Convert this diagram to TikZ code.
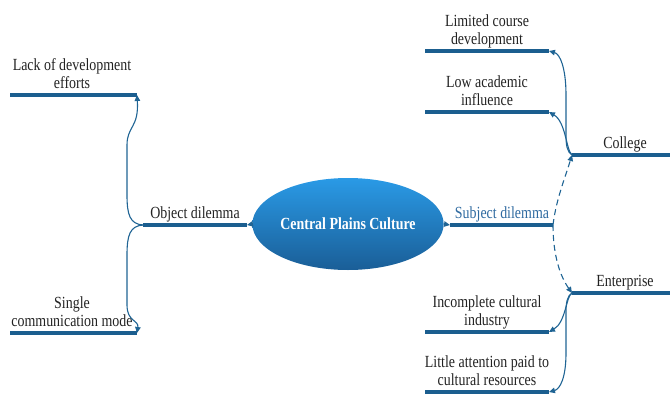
\documentclass[tikz,border=0pt]{standalone}
\usepackage{fontspec}
\setmainfont{Liberation Serif}
\usetikzlibrary{arrows.meta,shapes.geometric}
\definecolor{barblue}{HTML}{1B5E8F}
\definecolor{linkblue}{HTML}{1F6494}
\definecolor{subjblue}{HTML}{2F6AA0}
\definecolor{txt}{HTML}{222222}
\definecolor{elltop}{HTML}{2A9AE6}
\definecolor{ellbot}{HTML}{1A5E97}
\newcommand{\lbltxt}[1]{\scalebox{0.82}[1]{\begin{tabular}[b]{@{}c@{}}#1\end{tabular}}}
\begin{document}
\begin{tikzpicture}[x=1pt,y=-1pt,
  bar/.style={draw=barblue, line width=4.5pt},
  conn/.style={draw=linkblue, line width=1.1pt, -{Triangle[length=6pt,width=5.5pt]}},
  dconn/.style={conn, dash pattern=on 6pt off 4pt},
  lbl/.style={anchor=base, inner sep=0pt, text=txt, font=\fontsize{17}{18}\selectfont},
  hub/.style={inner sep=0pt, outer sep=0pt}]
\useasboundingbox (0,0) rectangle (670,394);

% central ellipse
\node[ellipse, minimum width=164pt, minimum height=92pt, inner sep=0pt,
  top color=elltop, bottom color=ellbot, draw=none, text=white,
  font=\bfseries\fontsize{17}{18}\selectfont] (c) at (348,224)
  {\scalebox{0.82}[1]{Central Plains Culture}};

% bar end coordinates
\coordinate (objL) at (143,225); \coordinate (objR) at (247,225);
\coordinate (subL) at (450,225); \coordinate (subR) at (553,225);
\coordinate (colL) at (572,155); \coordinate (colR) at (670,155);
\coordinate (entL) at (572,293); \coordinate (entR) at (670,293);
\coordinate (lackL) at (10,95); \coordinate (lackR) at (137,95);
\coordinate (singL) at (10,333); \coordinate (singR) at (137,333);
\coordinate (limL) at (425,51); \coordinate (limR) at (549,51);
\coordinate (lowL) at (425,112); \coordinate (lowR) at (549,112);
\coordinate (incL) at (425,332); \coordinate (incR) at (549,332);
\coordinate (litL) at (425,392); \coordinate (litR) at (549,392);

% bars
\draw[bar] (objL) -- (objR);
\draw[bar] (subL) -- (subR);
\draw[bar] (colL) -- (colR);
\draw[bar] (entL) -- (entR);
\draw[bar] (lackL) -- (lackR);
\draw[bar] (singL) -- (singR);
\draw[bar] (limL) -- (limR);
\draw[bar] (lowL) -- (lowR);
\draw[bar] (incL) -- (incR);
\draw[bar] (litL) -- (litR);

% labels
\node[lbl] (tobj) at (195,218) {\lbltxt{Object dilemma}};
\node[lbl, text=subjblue] (tsub) at (502,218) {\lbltxt{Subject dilemma}};
\node[lbl] (tcol) at (625,148) {\lbltxt{College}};
\node[lbl] (tent) at (625,286) {\lbltxt{Enterprise}};
\node[lbl] (tlack) at (72,88) {\lbltxt{Lack of development\\efforts}};
\node[lbl] (tsing) at (72,326) {\lbltxt{Single\\communication mode}};
\node[lbl] (tlim) at (487,44) {\lbltxt{Limited course\\development}};
\node[lbl] (tlow) at (487,105) {\lbltxt{Low academic\\influence}};
\node[lbl] (tinc) at (487,325) {\lbltxt{Incomplete cultural\\industry}};
\node[lbl] (tlit) at (487,385) {\lbltxt{Little attention paid to\\cultural resources}};

% connectors from centre
\draw[conn] (c.west) -- (objR);
\draw[dconn] (c.east) -- (subL);

% left branches
\draw[conn] (objL) .. controls (130,224) and (127,215) .. (127,195) -- (127,145)
  .. controls (127,126) and (139,128) .. (lackR);
\draw[conn] (objL) .. controls (130,226) and (127,235) .. (127,255) -- (127,305)
  .. controls (127,322) and (139,320) .. (singR);

% subject to college / enterprise
\draw[dconn] (subR) .. controls (556,200) and (565,178) .. (colL);
\draw[dconn] (subR) .. controls (553,255) and (560,276) .. (entL);

% college branches
\draw[conn] (colL) .. controls (567,152) and (566,145) .. (566,135) -- (566,95)
  .. controls (566,68) and (560,54) .. (limR);
\draw[conn] (colL) .. controls (566,150) and (566,122) .. (lowR);

% enterprise branches
\draw[conn] (entL) .. controls (566,296) and (566,322) .. (incR);
\draw[conn] (entL) .. controls (567,296) and (566,303) .. (566,313) -- (566,353)
  .. controls (566,378) and (560,389) .. (litR);
\end{tikzpicture}
\end{document}
